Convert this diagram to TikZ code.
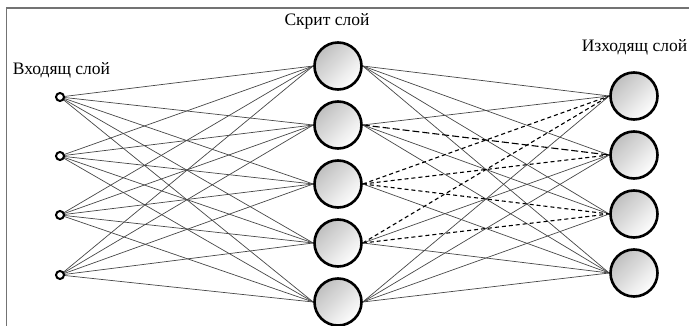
\documentclass[tikz,border=0pt]{standalone}
\usepackage{fontspec}
\setmainfont{Liberation Serif}
\usetikzlibrary{backgrounds}
\begin{document}
\begin{tikzpicture}[x=1pt,y=-1pt,
  inp/.style={circle,draw=black,line width=2pt,fill=white,minimum size=8pt,inner sep=0pt},
  neuron/.style={circle,draw=black,line width=2.6pt,minimum size=47pt,inner sep=0pt,
    shading=axis,left color=gray!50,middle color=white,right color=white,shading angle=45},
  conn/.style={draw=black!72,line width=0.7pt},
  dconn/.style={draw=black,line width=1.1pt,dash pattern=on 4pt off 3pt},
  ldconn/.style={draw=black,line width=1.1pt,dash pattern=on 7pt off 3pt},
  frame/.style={draw=black!55,line width=1.6pt},
  lbl/.style={font=\fontsize{17.5}{20}\selectfont,inner sep=0pt}]
\useasboundingbox (0,0) rectangle (689,326);
\draw[frame] (6.5,326) -- (6.5,8) -- (689,8);
\node[lbl] (tin) at (61.5,70) {Входящ слой};
\node[lbl] (thid) at (327,21) {Скрит слой};
\node[lbl] (tout) at (634.5,47) {Изходящ слой};
\foreach \i/\y in {1/97,2/156,3/215,4/275}
  \node[inp] (i\i) at (60,\y) {};
\foreach \i/\y in {1/66,2/125,3/184,4/243,5/302}
  \node[neuron] (h\i) at (338,\y) {};
\foreach \i/\y in {1/96,2/155,3/214,4/273}
  \node[neuron] (o\i) at (634,\y) {};
\begin{pgfonlayer}{background}
\foreach \a in {1,...,4}
  \foreach \b in {1,...,5}
    \draw[conn] (i\a.center) -- (h\b.west);
\foreach \a/\b/\s in {1/1/conn,1/2/conn,1/3/conn,1/4/conn,
  2/1/conn,2/2/ldconn,2/3/conn,2/4/conn,
  3/1/dconn,3/2/dconn,3/3/dconn,3/4/conn,
  4/1/dconn,4/2/conn,4/3/dconn,4/4/conn,
  5/1/conn,5/2/conn,5/3/conn,5/4/conn}
    \draw[\s] (h\a.east) -- (o\b.west);
\end{pgfonlayer}
\end{tikzpicture}
\end{document}
